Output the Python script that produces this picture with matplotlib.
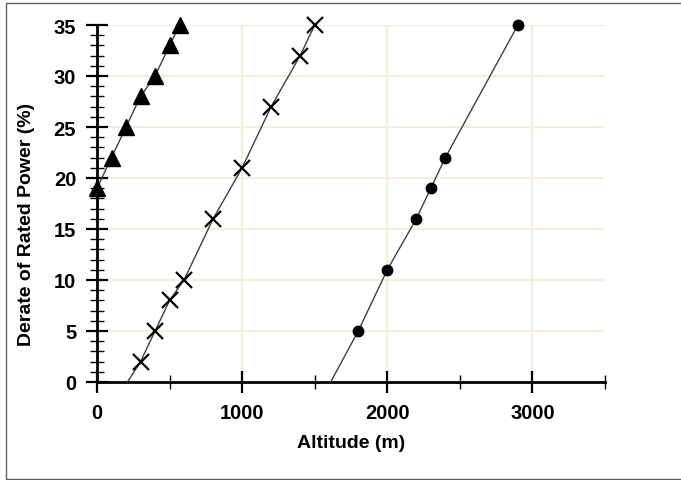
import matplotlib.pyplot as plt
from matplotlib.patches import Rectangle
from matplotlib.ticker import MultipleLocator

tri_alt = [0, 100, 200, 300, 400, 500, 570]
tri_derate = [19, 22, 25, 28, 30, 33, 35]

cross_alt = [300, 400, 500, 600, 800, 1000, 1200, 1400, 1500]
cross_derate = [2, 5, 8, 10, 16, 21, 27, 32, 35]
cross_line_alt = [210] + cross_alt
cross_line_derate = [0] + cross_derate

dot_alt = [1800, 2000, 2200, 2300, 2400, 2900]
dot_derate = [5, 11, 16, 19, 22, 35]
dot_line_alt = [1610] + dot_alt
dot_line_derate = [0] + dot_derate


def main():
    plt.rcParams['font.family'] = ['Liberation Sans', 'DejaVu Sans']
    plt.rcParams['font.weight'] = 'bold'
    fig = plt.figure(figsize=(6.81, 4.81), dpi=100)
    ax = fig.add_axes([97 / 681, 1 - 383 / 481, 508 / 681, 357 / 481])

    line_kw = dict(color='#404040', lw=1.0, zorder=3, clip_on=False)
    ax.plot(tri_alt, tri_derate, **line_kw)
    ax.plot(cross_line_alt, cross_line_derate, **line_kw)
    ax.plot(dot_line_alt, dot_line_derate, **line_kw)

    ax.plot(tri_alt, tri_derate, ls='none', marker='^', ms=11.5, color='black', zorder=4, clip_on=False)
    ax.plot(cross_alt, cross_derate, ls='none', marker='x', ms=11, mew=1.6, color='black', zorder=4, clip_on=False)
    ax.plot(dot_alt, dot_derate, ls='none', marker='o', ms=7.5, color='black', zorder=4, clip_on=False)

    ax.set_xlim(0, 3500)
    ax.set_ylim(0, 35)
    ax.xaxis.set_major_locator(MultipleLocator(1000))
    ax.xaxis.set_minor_locator(MultipleLocator(500))
    ax.yaxis.set_major_locator(MultipleLocator(5))
    ax.yaxis.set_minor_locator(MultipleLocator(1))

    ax.grid(True, which='major', color='#f2eddc', lw=1.5, zorder=0)
    ax.set_axisbelow(True)
    for s in ['top', 'right']:
        ax.spines[s].set_visible(False)
    for s in ['left', 'bottom']:
        ax.spines[s].set_linewidth(2)
        ax.spines[s].set_zorder(2.5)

    ax.tick_params(which='major', direction='inout', length=16, width=1.6, pad=7, labelsize=14.5)
    ax.tick_params(which='minor', direction='inout', length=9.5, width=1)

    ax.set_xlabel('Altitude (m)', fontsize=14, fontweight='bold')
    ax.set_ylabel('Derate of Rated Power (%)', fontsize=14, fontweight='bold')
    ax.xaxis.set_label_coords(0.5, -0.146)
    ax.yaxis.set_label_coords(-0.122, 0.445)

    fig.patches.append(Rectangle((5.5 / 681, 1.5 / 481), 2, 1 - 5 / 481, transform=fig.transFigure,
                                 fill=False, ec='#606060', lw=1))

    fig.savefig('out.png', dpi=100)


if __name__ == '__main__':
    main()
